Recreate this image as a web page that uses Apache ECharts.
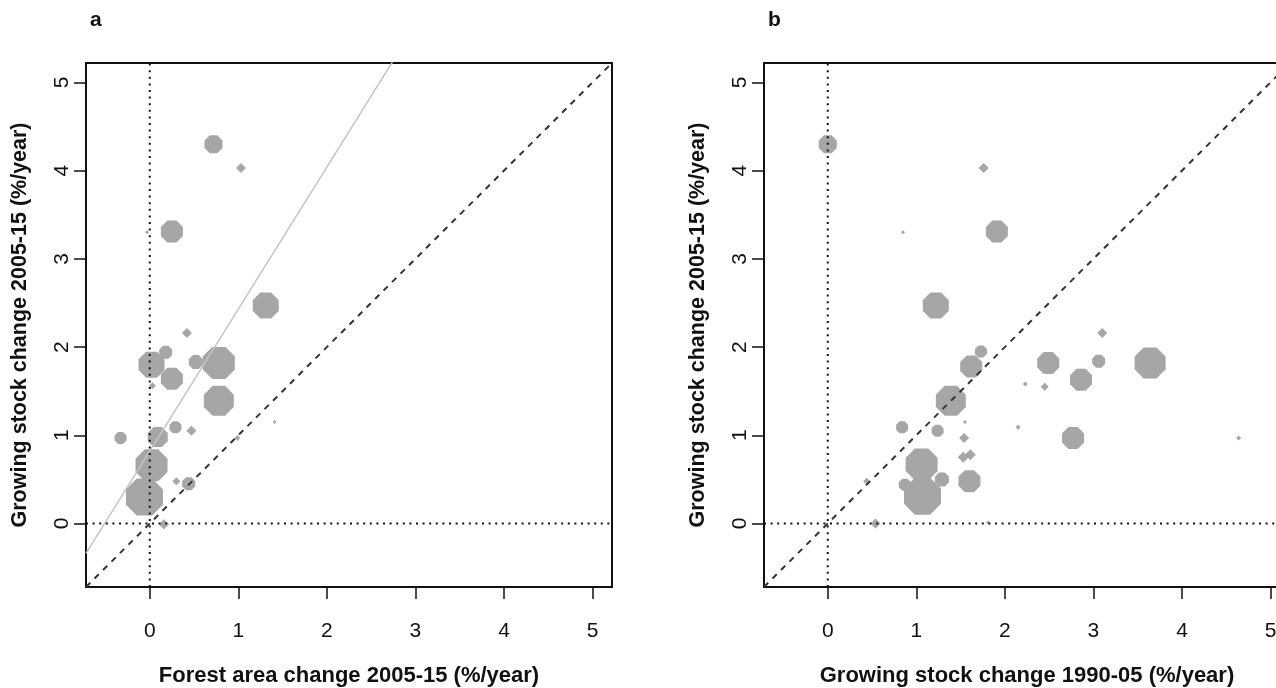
<!DOCTYPE html>
<html>
<head>
<meta charset="utf-8">
<script src="https://cdn.jsdelivr.net/npm/echarts@6/dist/echarts.min.js"></script>
<style>
  html, body { margin: 0; padding: 0; background: #fff; overflow: hidden; }
  /* panel b runs past the right edge of the window, so the canvas is a bit wider */
  #chart { width: 1300px; height: 688px; }
</style>
</head>
<body>
<div id="chart"></div>
<script>
// Growing stock change 2005-15 against (a) forest area change 2005-15
// and (b) growing stock change 1990-05, all in %/year.

const tickValues = [0, 1, 2, 3, 4, 5];
const axisLimits = [-0.5, 5];          // plotted range before the 4% pad

// Panel a: forest area change (x), growing stock change (y), bubble weight
const areaX = [0.72, 1.03, -0.03, 0.25, 1.31, 0.42, 0.18, 0.02, 0.52, 0.78, 0.25, 0.03, 0.78, 1.41, 0.29, 0.47, -0.33, 0.09, 0.99, 0.02, -0.06, 0.30, 0.44, 0.16];
const areaY = [4.30, 4.03, 3.30, 3.31, 2.47, 2.16, 1.94, 1.80, 1.83, 1.82, 1.64, 1.56, 1.39, 1.15, 1.09, 1.05, 0.97, 0.98, 0.97, 0.66, 0.30, 0.48, 0.45, -0.01];
const areaW = [18, 10, 4, 22, 26, 10, 13, 26, 14, 32, 22, 7, 30, 4, 12, 10, 12, 20, 6, 32, 37, 8, 13, 10];

// Panel b: growing stock change 1990-05 (x), growing stock change 2005-15 (y), bubble weight
const stockX = [0.00, 1.76, 0.85, 1.91, 1.22, 3.10, 1.73, 1.62, 2.49, 3.06, 3.64, 2.86, 2.23, 2.45, 1.39, 1.55, 0.84, 2.15, 1.24, 1.54, 2.77, 4.64, 1.53, 1.61, 1.06, 0.87, 1.29, 1.07, 1.60, 0.44, 0.54, 1.81];
const stockY = [4.30, 4.03, 3.30, 3.31, 2.47, 2.16, 1.95, 1.78, 1.82, 1.84, 1.82, 1.63, 1.58, 1.55, 1.39, 1.15, 1.09, 1.09, 1.05, 0.97, 0.97, 0.97, 0.75, 0.78, 0.67, 0.44, 0.50, 0.31, 0.48, 0.48, 0.00, 0.01];
const stockW = [18, 10, 4, 22, 26, 10, 12, 22, 22, 13, 31, 22, 5, 8, 30, 4, 12, 5, 12, 10, 22, 5, 11, 11, 32, 12, 14, 37, 22, 7, 10, 4];

// Fitted line shown in panel a
const fitIntercept = 0.82;
const fitSlope = 1.61;

const pad = (axisLimits[1] - axisLimits[0]) * 0.04;
const lo = axisLimits[0] - pad;
const hi = axisLimits[1] + pad;

const pointColor = '#a6a6a6';
const octagon = 'path://M2.93,0 L7.07,0 L10,2.93 L10,7.07 L7.07,10 L2.93,10 L0,7.07 L0,2.93 Z';
const font = 'Liberation Sans, Arial, sans-serif';
const ink = '#111';

function pts(xs, ys, ws) {
  return xs.map((x, i) => [x, ys[i], ws[i]]);
}

const grids = [
  { left: 86, top: 63, width: 526, height: 524 },
  { left: 764, top: 63, width: 526, height: 524 }
];

const xNames = ['Forest area change 2005-15 (%/year)', 'Growing stock change 1990-05 (%/year)'];
const yName = 'Growing stock change 2005-15 (%/year)';

function xAxisFor(i) {
  return {
    gridIndex: i, type: 'value', min: lo, max: hi,
    axisLine: { show: false, onZero: false },
    splitLine: { show: false },
    axisTick: { show: true, customValues: tickValues, length: 12, lineStyle: { color: ink, width: 1.5 } },
    axisLabel: { customValues: tickValues, margin: 34, fontSize: 21, color: ink, fontFamily: font },
    name: xNames[i], nameLocation: 'middle', nameGap: 78,
    nameTextStyle: { fontSize: 22, fontWeight: 'bold', color: ink, fontFamily: font }
  };
}
function yAxisFor(i) {
  return {
    gridIndex: i, type: 'value', min: lo, max: hi,
    axisLine: { show: false, onZero: false },
    splitLine: { show: false },
    axisTick: { show: true, customValues: tickValues, length: 12, lineStyle: { color: ink, width: 1.5 } },
    axisLabel: { customValues: tickValues, rotate: 90, margin: 13, fontSize: 21, color: ink, fontFamily: font },
    name: yName, nameLocation: 'middle', nameGap: 55,
    nameTextStyle: { fontSize: 21.5, fontWeight: 'bold', color: ink, fontFamily: font }
  };
}

function bubbles(i, data) {
  return {
    type: 'scatter', xAxisIndex: i, yAxisIndex: i, z: 2,
    data: data,
    symbol: v => (v[2] <= 11 ? 'diamond' : octagon),
    symbolSize: v => v[2],
    itemStyle: { color: pointColor, opacity: 1 },
    silent: true
  };
}
function refLine(i, data, style, z) {
  return {
    type: 'line', xAxisIndex: i, yAxisIndex: i, z: z || 5,
    data: data, symbol: 'none', clip: true, silent: true,
    lineStyle: style
  };
}

const dotted = { color: ink, width: 2, type: [2, 4.6] };
const dashed = { color: '#333', width: 2, type: [6, 6] };

const series = [];
[0, 1].forEach(i => {
  series.push(bubbles(i, i === 0 ? pts(areaX, areaY, areaW) : pts(stockX, stockY, stockW)));
  series.push(refLine(i, [[0, lo], [0, hi]], dotted));
  series.push(refLine(i, [[lo, 0], [hi, 0]], dotted));
  series.push(refLine(i, [[lo, lo], [hi, hi]], dashed));
});
series.push(refLine(0, [[lo, fitIntercept + fitSlope * lo], [hi, fitIntercept + fitSlope * hi]],
  { color: '#c4c4c4', width: 1.5, type: 'solid' }, 4));

const chart = echarts.init(document.getElementById('chart'), null, { renderer: 'canvas' });
chart.setOption({
  backgroundColor: '#fff',
  animation: false,
  title: [
    { text: 'a', left: 85, top: 5, textStyle: { fontSize: 21, fontWeight: 'bold', color: ink, fontFamily: font } },
    { text: 'b', left: 763, top: 5, textStyle: { fontSize: 21, fontWeight: 'bold', color: ink, fontFamily: font } }
  ],
  grid: grids.map(g => Object.assign({
    show: true, borderColor: ink, borderWidth: 2, backgroundColor: 'transparent',
    containLabel: false, outerBoundsMode: 'none'
  }, g)),
  xAxis: [xAxisFor(0), xAxisFor(1)],
  yAxis: [yAxisFor(0), yAxisFor(1)],
  series: series
});
</script>
</body>
</html>
